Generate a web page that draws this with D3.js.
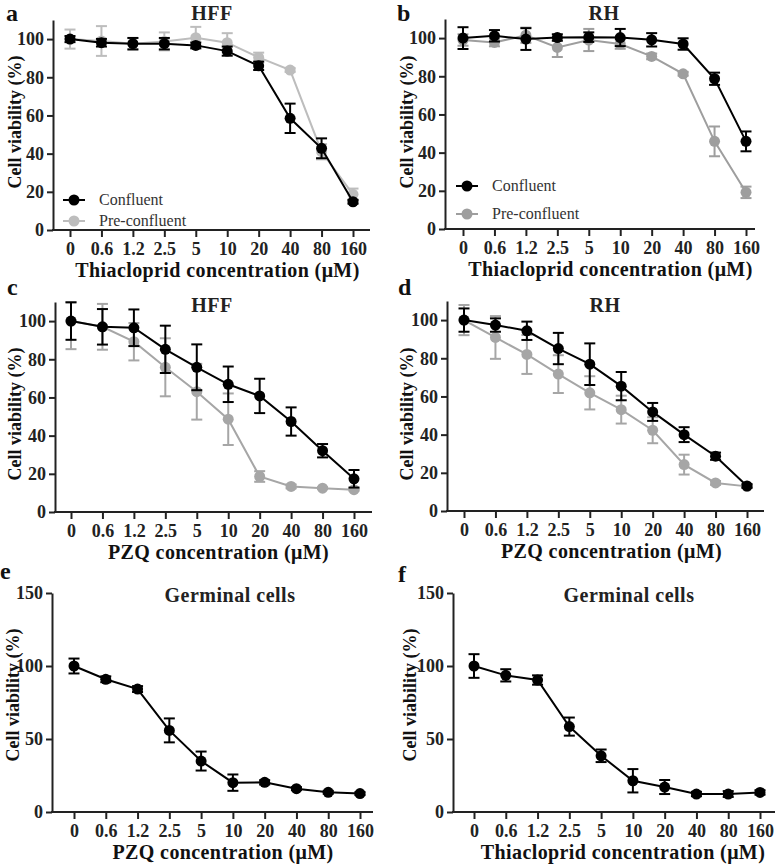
<!DOCTYPE html>
<html>
<head>
<meta charset="utf-8">
<script src="https://cdn.jsdelivr.net/npm/d3@7"></script>
<style>
  body { margin: 0; background: #fff; }
  svg { display: block; }
  svg text { font-family: "Liberation Serif", "Times New Roman", serif; }
  .tick text { font-size: 18px; font-weight: bold; fill: #222; }
  .tick line, .domain { stroke: #222; stroke-width: 2px; }
</style>
</head>
<body>
<svg width="784" height="864"></svg>
<script>
// concentrations (x categories)
var conc = ["0", "0.6", "1.2", "2.5", "5", "10", "20", "40", "80", "160"];

// a: HFF, thiacloprid
var hffThiaConf = [100, 98.1, 97.6, 97.6, 96.7, 93.7, 86, 58.5, 42.8, 14.8];
var hffThiaConfErr = [1.6, 2, 3, 3, 1.5, 2.4, 2.2, 7.7, 5.2, 1];
var hffThiaPre = [100, 99, 97.5, 98.8, 100.7, 98.1, 90.4, 83.8, 41, 18.7];
var hffThiaPreErr = [5, 7.8, 3, 4.7, 5.7, 5, 2.5, 1, 4, 3];

// b: RH, thiacloprid
var rhThiaConf = [100, 101.2, 99.5, 100.3, 100.5, 100.3, 99.1, 96.9, 78.7, 45.9];
var rhThiaConfErr = [5.7, 3, 5.7, 1.7, 2.5, 4.5, 3.5, 3, 3.2, 5.2];
var rhThiaPre = [99, 97.7, 101.5, 95.1, 99, 96.9, 90.4, 81.3, 45.9, 19.2];
var rhThiaPreErr = [3, 2, 4, 5, 5.8, 2.5, 1.5, 1, 7.8, 3];

// c: HFF, PZQ
var hffPzqConf = [100, 97, 96.5, 85.2, 75.8, 66.9, 60.8, 47.4, 32.1, 17.4];
var hffPzqConfErr = [9.8, 9.3, 9.6, 12.4, 12, 9.3, 9, 7.4, 3.5, 4.6];
var hffPzqPre = [100, 97, 89.2, 75.8, 63, 48.6, 18.6, 13.4, 12.5, 11.7];
var hffPzqPreErr = [14.7, 12, 9.8, 15.2, 14.6, 13.5, 2.8, 1, 0.5, 0.5];

// d: RH, PZQ
var rhPzqConf = [100, 97.4, 94.4, 85.1, 76.9, 65.4, 51.9, 40, 28.7, 13.1];
var rhPzqConfErr = [6.1, 3.5, 4.8, 8.2, 10.9, 7.4, 4.7, 3.9, 1.9, 1];
var rhPzqPre = [100, 90.9, 82, 71.7, 61.9, 53.1, 42.3, 24.3, 14.7, 12.9];
var rhPzqPreErr = [7.9, 11.2, 10.2, 9.9, 8.7, 7.3, 6.8, 5.2, 1, 0.5];

// e, f: germinal cells
var germPzq = [100, 90.9, 84.2, 55.9, 34.9, 20.1, 20.3, 16, 13.5, 12.6];
var germPzqErr = [5.1, 2, 2, 8.2, 6.5, 5.6, 1.5, 1, 1, 1];
var germThia = [100, 93.6, 90.4, 58.5, 38.5, 21.4, 17.1, 12.3, 12.3, 13.4];
var germThiaErr = [8.1, 4.2, 3.2, 6.2, 4.3, 8, 4.8, 1.5, 2, 1.5];

var ticks110 = [0, 20, 40, 60, 80, 100];
var ticks150 = [0, 50, 100, 150];
var seriesNames = ["Confluent", "Pre-confluent"];

var panels = [
  { letter: "a", lx: 6, ly: 21, title: "HFF", tx: 212, ty: 20, xTitle: "Thiacloprid concentration (\u03bcM)",
    ax: 53, x0: 70, x1: 353, xEnd: 370, y0: 230, yTop: 20, yMax: 110, yTicks: ticks110, yl: 15, ym: 122,
    series: [[hffThiaPre, hffThiaPreErr, "#bdbdbd"], [hffThiaConf, hffThiaConfErr, "#000"]],
    legend: { x: 63, y: 200, dy: 21, colors: ["#000", "#bdbdbd"] } },
  { letter: "b", lx: 397, ly: 21, title: "RH", tx: 604, ty: 20, xTitle: "Thiacloprid concentration (\u03bcM)",
    ax: 445, x0: 463, x1: 746, xEnd: 755, y0: 229, yTop: 19, yMax: 110, yTicks: ticks110, yl: 407, ym: 122,
    series: [[rhThiaPre, rhThiaPreErr, "#9e9e9e"], [rhThiaConf, rhThiaConfErr, "#000"]],
    legend: { x: 456, y: 186, dy: 28, colors: ["#000", "#9e9e9e"] } },
  { letter: "c", lx: 7, ly: 295, title: "HFF", tx: 212, ty: 312, xTitle: "PZQ concentration (\u03bcM)",
    ax: 55, x0: 71, x1: 354, xEnd: 372, y0: 512, yTop: 302, yMax: 110, yTicks: ticks110, yl: 15, ym: 414,
    series: [[hffPzqPre, hffPzqPreErr, "#a6a6a6"], [hffPzqConf, hffPzqConfErr, "#000"]] },
  { letter: "d", lx: 398, ly: 295, title: "RH", tx: 605, ty: 312, xTitle: "PZQ concentration (\u03bcM)",
    ax: 447, x0: 464, x1: 747, xEnd: 764, y0: 511, yTop: 301, yMax: 110, yTicks: ticks110, yl: 407, ym: 414,
    series: [[rhPzqPre, rhPzqPreErr, "#a6a6a6"], [rhPzqConf, rhPzqConfErr, "#000"]] },
  { letter: "e", lx: 0, ly: 579, title: "Germinal cells", tx: 230, ty: 602, xTitle: "PZQ concentration (\u03bcM)",
    ax: 52, x0: 74, x1: 360, xEnd: 373, y0: 812, yTop: 593, yMax: 150, yTicks: ticks150, yl: 13, ym: 695,
    series: [[germPzq, germPzqErr, "#000"]] },
  { letter: "f", lx: 398, ly: 582, title: "Germinal cells", tx: 629, ty: 602, xTitle: "Thiacloprid concentration (\u03bcM)",
    ax: 453, x0: 474, x1: 760, xEnd: 775, y0: 812, yTop: 593, yMax: 150, yTicks: ticks150, yl: 410, ym: 695,
    series: [[germThia, germThiaErr, "#000"]] }
];

var svg = d3.select("svg");

panels.forEach(function(p) {
  var g = svg.append("g");
  var x = d3.scalePoint().domain(conc).range([p.x0, p.x1]);
  var y = d3.scaleLinear().domain([0, p.yMax]).range([p.y0, p.yTop]).clamp(true);

  // y axis
  g.append("g")
    .attr("transform", "translate(" + p.ax + ",0)")
    .call(d3.axisLeft(y).tickValues(p.yTicks).tickSize(6).tickSizeOuter(0).tickPadding(3))
    .attr("font-family", null).attr("font-size", null);

  // x axis: line from the y axis out, ticks on categories
  var xa = g.append("g")
    .attr("transform", "translate(0," + p.y0 + ")")
    .call(d3.axisBottom(x).tickSize(7).tickPadding(5))
    .attr("font-family", null).attr("font-size", null);
  xa.select(".domain").remove();
  xa.append("line").attr("x1", p.ax - 1).attr("x2", p.xEnd)
    .attr("stroke", "#222").attr("stroke-width", 2);

  // series
  p.series.forEach(function(s) {
    var vals = s[0], errs = s[1], col = s[2];
    var pts = conc.map(function(c, i) { return { c: c, v: vals[i], e: errs[i] }; });
    g.append("path").datum(pts)
      .attr("fill", "none").attr("stroke", col).attr("stroke-width", 2)
      .attr("d", d3.line().x(function(d) { return x(d.c); }).y(function(d) { return y(d.v); }));
    var eb = g.append("g").attr("stroke", col).attr("stroke-width", 2);
    eb.selectAll(".v").data(pts).enter().append("line")
      .attr("x1", function(d) { return x(d.c); }).attr("x2", function(d) { return x(d.c); })
      .attr("y1", function(d) { return y(d.v - d.e); }).attr("y2", function(d) { return y(d.v + d.e); });
    [-1, 1].forEach(function(sign) {
      eb.selectAll(".cap" + sign).data(pts).enter().append("line")
        .attr("x1", function(d) { return x(d.c) - 5.5; }).attr("x2", function(d) { return x(d.c) + 5.5; })
        .attr("y1", function(d) { return y(d.v + sign * d.e); }).attr("y2", function(d) { return y(d.v + sign * d.e); });
    });
    g.selectAll(null).data(pts).enter().append("circle")
      .attr("cx", function(d) { return x(d.c); }).attr("cy", function(d) { return y(d.v); })
      .attr("r", 5.5).attr("fill", col);
  });

  // titles
  g.append("text").attr("x", p.lx).attr("y", p.ly).text(p.letter)
    .attr("font-size", 24).attr("font-weight", "bold").attr("fill", "#111");
  g.append("text").attr("x", p.tx).attr("y", p.ty).attr("text-anchor", "middle").text(p.title)
    .attr("font-size", 20).attr("font-weight", "bold").attr("fill", "#222").attr("letter-spacing", 0.5);
  g.append("text").attr("x", (p.x0 + p.x1) / 2 + 6).attr("y", p.y0 + 47).attr("text-anchor", "middle")
    .text(p.xTitle).attr("font-size", 20).attr("font-weight", "bold").attr("fill", "#111")
    .attr("letter-spacing", 0.4);
  g.append("text")
    .attr("transform", "translate(" + p.yl + "," + p.ym + ") rotate(-90)")
    .attr("text-anchor", "middle").attr("dy", "0.35em").text("Cell viability (%)")
    .attr("font-size", 18).attr("font-weight", "bold").attr("fill", "#111");

  // legend
  if (p.legend) {
    seriesNames.forEach(function(name, i) {
      var ly = p.legend.y + i * p.legend.dy, c = p.legend.colors[i];
      g.append("line").attr("x1", p.legend.x).attr("x2", p.legend.x + 22)
        .attr("y1", ly).attr("y2", ly).attr("stroke", c).attr("stroke-width", 2);
      g.append("circle").attr("cx", p.legend.x + 11).attr("cy", ly).attr("r", 5.5).attr("fill", c);
      g.append("text").attr("x", p.legend.x + 36).attr("y", ly + 5).text(name)
        .attr("font-size", 16).attr("fill", "#333");
    });
  }
});
</script>
</body>
</html>
